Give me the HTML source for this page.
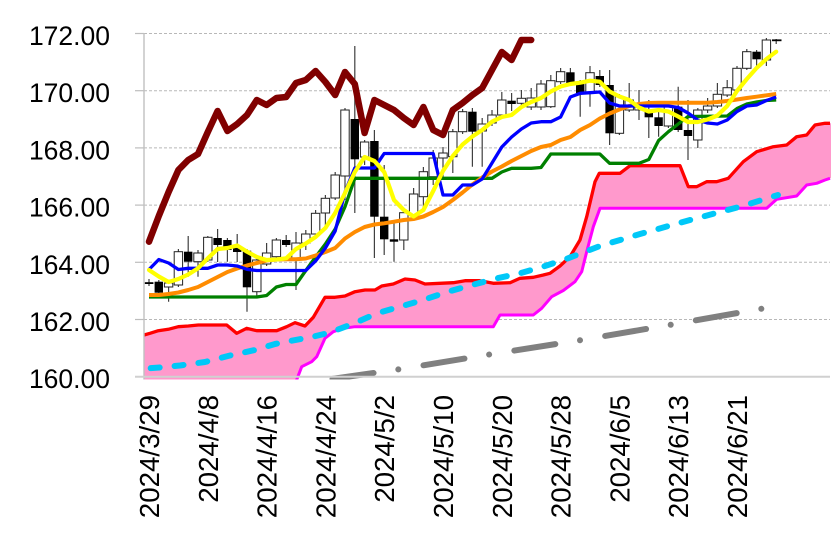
<!DOCTYPE html>
<html>
<head>
<meta charset="utf-8">
<style>
html,body{margin:0;padding:0;background:#fff;}
svg{display:block;}
text{font-family:"Liberation Sans","Noto Sans CJK JP",sans-serif;fill:#000;}
</style>
</head>
<body>
<svg width="836" height="545" viewBox="0 0 836 545" xmlns="http://www.w3.org/2000/svg">
<defs>
<clipPath id="pa"><rect x="144" y="0" width="687" height="379.5"/></clipPath>
</defs>
<rect width="836" height="545" fill="#fff"/>
<g stroke="#b8b8b8" stroke-width="1" stroke-dasharray="3 2" fill="none">
<line x1="144" y1="33.5" x2="830" y2="33.5"/>
<line x1="144" y1="90.7" x2="830" y2="90.7"/>
<line x1="144" y1="147.9" x2="830" y2="147.9"/>
<line x1="144" y1="205.1" x2="830" y2="205.1"/>
<line x1="144" y1="262.3" x2="830" y2="262.3"/>
<line x1="144" y1="319.5" x2="830" y2="319.5"/>
</g>
<g stroke="#bdbdbd" stroke-width="1.2">
<line x1="135" y1="33.5" x2="144" y2="33.5"/>
<line x1="135" y1="90.7" x2="144" y2="90.7"/>
<line x1="135" y1="147.9" x2="144" y2="147.9"/>
<line x1="135" y1="205.1" x2="144" y2="205.1"/>
<line x1="135" y1="262.3" x2="144" y2="262.3"/>
<line x1="135" y1="319.5" x2="144" y2="319.5"/>
</g>
<g clip-path="url(#pa)">
<polygon fill="#ff99cc" points="144,335 150,333.3 158.3,330.7 168.3,329.3 178.3,326.7 188.3,326 198.3,325 226.7,325 236.7,333.3 246.7,328.3 256.7,330.7 276.7,330.7 286.7,326.7 295,322.7 305,326 313.3,317.3 325,297.3 335,297.3 345,296 355,291.7 365,290 375,290 381.7,286 393.3,284 405,279 415,280 425,284 440,283.3 453.3,282.7 465,280.7 480,280.7 493.3,283.3 510,282.7 520,278.3 533.3,277.3 543.3,275 550,273.3 560,266 570,256.7 580,240 586.7,216.7 595,181.7 599.3,173.3 620,173.3 630,165.7 680,165.7 688.3,186.7 696.7,186.7 706.7,181.7 716.7,181.7 728.3,178.3 743.3,161.7 756.7,151.7 773.3,146.7 786.7,145 796.7,136.7 806.7,135 815,125 825,123.3 832,123.3 832,178.3 830,178.3 825,180 816.7,183.3 806.7,185 796.7,196 776.7,199.3 766.7,208.3 600,208.3 593.3,226.7 586.7,251.7 581.7,271.7 575,281.7 563.3,290.5 551.7,296.7 541.7,308.3 533.3,315 500,315 493.3,326.7 355,326.7 343.3,328.3 333.3,331.7 325,338.3 316.7,356.7 311.7,361.7 301.7,366.7 292,392 285,400 144,400"/>
<polyline fill="none" stroke="#ff0000" stroke-width="3.3" stroke-linejoin="round" points="144,335 150,333.3 158.3,330.7 168.3,329.3 178.3,326.7 188.3,326 198.3,325 226.7,325 236.7,333.3 246.7,328.3 256.7,330.7 276.7,330.7 286.7,326.7 295,322.7 305,326 313.3,317.3 325,297.3 335,297.3 345,296 355,291.7 365,290 375,290 381.7,286 393.3,284 405,279 415,280 425,284 440,283.3 453.3,282.7 465,280.7 480,280.7 493.3,283.3 510,282.7 520,278.3 533.3,277.3 543.3,275 550,273.3 560,266 570,256.7 580,240 586.7,216.7 595,181.7 599.3,173.3 620,173.3 630,165.7 680,165.7 688.3,186.7 696.7,186.7 706.7,181.7 716.7,181.7 728.3,178.3 743.3,161.7 756.7,151.7 773.3,146.7 786.7,145 796.7,136.7 806.7,135 815,125 825,123.3 830,123.3"/>
<polyline fill="none" stroke="#ff00ff" stroke-width="3" stroke-linejoin="round" points="292,392 301.7,366.7 311.7,361.7 316.7,356.7 325,338.3 333.3,331.7 343.3,328.3 355,326.7 493.3,326.7 500,315 533.3,315 541.7,308.3 551.7,296.7 563.3,290.5 575,281.7 581.7,271.7 586.7,251.7 593.3,226.7 600,208.3 766.7,208.3 776.7,199.3 796.7,196 806.7,185 816.7,183.3 825,180 830,178.3"/>
<polyline fill="none" stroke="#00c8f8" stroke-width="6" stroke-linecap="round" stroke-linejoin="round" stroke-dasharray="9 15" stroke-dashoffset="-1.7" points="149,368.3 160,367.5 180,365.5 205,362 230,355.5 255,350 275,344 290,341 313,336.7 330,332.5 355,323 377,313.3 400,306.7 423,300 448,291.7 472,285 497,278.3 520,273.3 543,266.7 568,258.3 600,246 640,234 690,220 740,206.7 778,195"/>
<polyline fill="none" stroke="#808080" stroke-width="6" stroke-linecap="round" stroke-linejoin="round" stroke-dasharray="41.5 25 0.01 25.5" points="332.5,378.9 399,369.3 490.7,354.3 581.7,340 673.3,324.3 764,308.3"/>
<path fill="none" stroke="#404040" stroke-width="1.2" d="M149 279V286M158.8 280V294M168.6 280V301.7M178.4 249V287M188.2 236V276.7M198 250V276.7M207.8 236V262M217.6 229V262M227.4 238V261.7M237.2 234V262M247 249V311.7M256.8 258V296.7M266.6 243V266M276.4 238V258M286.2 235V247M296 232V290M305.8 230V250M315.6 210V236M325.4 195V226M335.2 172V200M345 108V200M354.8 46V213M364.6 140V165M374.4 130V258M384.2 165V255M394 222V261.7M403.8 210V250M413.6 188V220M423.4 167V207M433.2 150V185M443 147V180M452.8 129V173M462.6 109V134M472.4 108V166.7M482.2 118V166.7M492 110V126M501.8 92V117M511.6 93V111M521.4 90V106M531.2 88V110M541 80V110M550.8 75V108M560.6 68V84M570.4 68V86M580.2 80V116.7M590 66V106.7M599.8 70V87M609.6 70V145M619.4 94V135M629.2 83V112M639 90V120M648.8 100V138M658.6 112V136.7M668.4 104V128M678.2 86.7V132M688 100V160M697.8 108V148M707.6 98V113M717.4 83V108M727.2 80V97M737 66V92M746.8 49V70M756.6 50V70M766.4 38V66M776.2 39V44"/>
<g fill="#fff" stroke="#222" stroke-width="1">
<rect x="164.4" y="283" width="8.4" height="4"/>
<rect x="174.2" y="251.7" width="8.4" height="33.3"/>
<rect x="193.8" y="253" width="8.4" height="8.7"/>
<rect x="203.6" y="237.3" width="8.4" height="22.7"/>
<rect x="252.6" y="260" width="8.4" height="31.7"/>
<rect x="262.4" y="253" width="8.4" height="11"/>
<rect x="272.2" y="240" width="8.4" height="16.7"/>
<rect x="291.8" y="243" width="8.4" height="16"/>
<rect x="301.6" y="234" width="8.4" height="9"/>
<rect x="311.4" y="213.3" width="8.4" height="20.7"/>
<rect x="321.2" y="198.3" width="8.4" height="14.7"/>
<rect x="331" y="175" width="8.4" height="23"/>
<rect x="340.8" y="110" width="8.4" height="66"/>
<rect x="360.4" y="142" width="8.4" height="15"/>
<rect x="399.6" y="212.7" width="8.4" height="27.3"/>
<rect x="409.4" y="194" width="8.4" height="21"/>
<rect x="419.2" y="171.7" width="8.4" height="25"/>
<rect x="429" y="158" width="8.4" height="18.7"/>
<rect x="438.8" y="153" width="8.4" height="5"/>
<rect x="448.6" y="131.7" width="8.4" height="25"/>
<rect x="458.4" y="111.7" width="8.4" height="20"/>
<rect x="478" y="124" width="8.4" height="7"/>
<rect x="487.8" y="115" width="8.4" height="8"/>
<rect x="497.6" y="100" width="8.4" height="15"/>
<rect x="517.2" y="98.3" width="8.4" height="5"/>
<rect x="527" y="98" width="8.4" height="9"/>
<rect x="536.8" y="84" width="8.4" height="23"/>
<rect x="546.6" y="80.7" width="8.4" height="26"/>
<rect x="556.4" y="71.7" width="8.4" height="10"/>
<rect x="585.8" y="72.7" width="8.4" height="20.3"/>
<rect x="615.2" y="96.7" width="8.4" height="36.6"/>
<rect x="625" y="100" width="8.4" height="10"/>
<rect x="634.8" y="107" width="8.4" height="3"/>
<rect x="664.2" y="106.7" width="8.4" height="19.3"/>
<rect x="693.6" y="110" width="8.4" height="30"/>
<rect x="703.4" y="106" width="8.4" height="4"/>
<rect x="713.2" y="94.3" width="8.4" height="11.7"/>
<rect x="723" y="87.7" width="8.4" height="7.3"/>
<rect x="732.8" y="68.3" width="8.4" height="21.7"/>
<rect x="742.6" y="51.7" width="8.4" height="16.6"/>
<rect x="762.2" y="40" width="8.4" height="20"/>
</g>
<g fill="#000">
<rect x="144.8" y="282.2" width="8.6" height="1.8"/>
<rect x="154.6" y="281.7" width="8.4" height="11"/>
<rect x="184" y="251.7" width="8.4" height="10"/>
<rect x="213.4" y="238" width="8.4" height="7"/>
<rect x="223.2" y="240" width="8.4" height="10"/>
<rect x="233" y="248" width="8.4" height="4"/>
<rect x="242.8" y="250.7" width="8.4" height="36.6"/>
<rect x="282" y="240" width="8.4" height="5"/>
<rect x="350.6" y="119" width="8.4" height="40.3"/>
<rect x="370.2" y="141" width="8.4" height="75.7"/>
<rect x="380" y="216.7" width="8.4" height="22.6"/>
<rect x="389.8" y="239.3" width="8.4" height="2.4"/>
<rect x="468.2" y="111.7" width="8.4" height="20"/>
<rect x="507.4" y="100.7" width="8.4" height="3.3"/>
<rect x="566.2" y="72.3" width="8.4" height="11"/>
<rect x="576" y="83.3" width="8.4" height="10"/>
<rect x="595.6" y="76" width="8.4" height="9"/>
<rect x="605.4" y="85" width="8.4" height="48.3"/>
<rect x="644.6" y="111.7" width="8.4" height="5.6"/>
<rect x="654.4" y="117.3" width="8.4" height="8.7"/>
<rect x="674" y="106.7" width="8.4" height="23.3"/>
<rect x="683.8" y="130" width="8.4" height="6"/>
<rect x="752.4" y="51.7" width="8.4" height="7.6"/>
<rect x="772" y="39.4" width="9.5" height="1.8"/>
</g>
<polyline fill="none" stroke="#008000" stroke-width="3.3" stroke-linejoin="round" points="149,297 256.8,297 266.6,295.5 276.4,287 286.2,284.5 296,284.5 305.8,270.5 315.6,257 325.4,244 335.2,229 345,206.7 354.8,178.3 492,178.3 501.8,172 511.6,168.3 531.2,168.3 541,167.5 550.8,154 599.8,154 609.6,163.3 639,163.3 648.8,159.5 658.6,140.5 668.4,131.7 678.2,124 688,116.5 727.2,116 737,108.5 746.8,104 756.6,102 766.4,100.5 776.2,100"/>
<polyline fill="none" stroke="#ff8c00" stroke-width="4" stroke-linejoin="round" points="149,295 158.8,295 168.6,294 178.4,292.5 188.2,290 198,287 207.8,282 217.6,277 227.4,272 237.2,268.5 247,265.5 256.8,263 266.6,260.5 276.4,259.5 286.2,259.3 296,259.3 305.8,258.5 315.6,255.5 325.4,252 335.2,248 345,238.5 354.8,232 364.6,227 374.4,224.5 384.2,223.3 394,221.7 403.8,220 413.6,219 423.4,216.5 433.2,212 443,207 452.8,200 462.6,192.5 472.4,184.5 482.2,177.5 492,171.5 501.8,166.5 511.6,161 521.4,156 531.2,151 541,147 550.8,145 560.6,140 570.4,137 580.2,130 590,125 599.8,118.5 609.6,113.5 619.4,109.5 629.2,106 639,104 648.8,103 658.6,102.7 707.6,102.7 717.4,102 727.2,101 737,99.5 746.8,98 756.6,96.7 766.4,95.3 776.2,94"/>
<polyline fill="none" stroke="#0000ff" stroke-width="3.3" stroke-linejoin="round" points="149,269.5 158.8,259.5 168.6,263 178.4,269.5 188.2,268.3 198,268.3 207.8,268.3 217.6,265 227.4,265 237.2,266 247,269.3 256.8,270.5 305.8,270.5 315.6,261 325.4,248 335.2,231 345,192 354.8,168 374.4,168 384.2,153.5 433.2,153.5 443,195 452.8,195 462.6,185 472.4,185 482.2,179 492,163 501.8,147 511.6,137 521.4,129 531.2,123 541,121.7 550.8,121.7 560.6,117 570.4,97 580.2,93.3 590,92.7 599.8,92 609.6,103 619.4,106 668.4,106 678.2,107.5 688,113 697.8,120 707.6,123 717.4,124 727.2,120 737,111.5 746.8,106 756.6,105 766.4,100.5 776.2,97"/>
<polyline fill="none" stroke="#ffff00" stroke-width="4.2" stroke-linejoin="round" stroke-linecap="round" points="149,270 158.8,276.5 168.6,282 178.4,279 188.2,274.5 198,268.3 207.8,258.3 217.6,249 227.4,248 237.2,245.5 247,251.7 256.8,257 266.6,260 276.4,259.5 286.2,258.3 296,249 305.8,243.5 315.6,237 325.4,228 335.2,213 345,193 354.8,172 364.6,157 374.4,161 384.2,172 394,200 403.8,210 413.6,216.5 423.4,210 433.2,191 443,171 452.8,156 462.6,144.5 472.4,136.5 482.2,130 492,121.7 501.8,117 511.6,115 521.4,107 531.2,102 541,98 550.8,91.5 560.6,86.5 570.4,84 580.2,82.7 590,80.7 599.8,81.7 609.6,91.5 619.4,96.5 629.2,100 639,107.5 648.8,111.5 658.6,110 668.4,111.5 678.2,116.5 688,122 697.8,122 707.6,119.5 717.4,115.5 727.2,106 737,91 746.8,79 756.6,68 766.4,59 776.2,51.7"/>
<polyline fill="none" stroke="#800000" stroke-width="6.5" stroke-linejoin="round" stroke-linecap="round" points="149,241.7 158.8,216 168.6,192 178.4,170 188.2,160 198,154 207.8,132 217.6,111 227.4,131 237.2,124 247,115 256.8,100 266.6,105 276.4,98 286.2,97 296,83 305.8,80 315.6,71 325.4,82 335.2,95 345,72 354.8,84 364.6,133 374.4,100 384.2,105 394,110 403.8,118 413.6,125 423.4,107 433.2,130 443,135 452.8,110 462.6,103 472.4,95 482.2,88 492,70 501.8,52 511.6,60 521.4,40 531.2,40"/>
</g>
<line x1="144" y1="33" x2="144" y2="379.5" stroke="#c0c0c0" stroke-width="1.4"/>
<line x1="135" y1="376.8" x2="830" y2="376.8" stroke="#d0d0d0" stroke-width="2"/>
<g font-size="26.5" text-anchor="end">
<text x="110" y="45">172.00</text>
<text x="110" y="102.2">170.00</text>
<text x="110" y="159.4">168.00</text>
<text x="110" y="216.6">166.00</text>
<text x="110" y="273.8">164.00</text>
<text x="110" y="331">162.00</text>
<text x="110" y="388.2">160.00</text>
</g>
<g font-size="27.7" text-anchor="end">
<text transform="translate(159,395) rotate(-90)">2024/3/29</text>
<text transform="translate(217.8,395) rotate(-90)">2024/4/8</text>
<text transform="translate(276.6,395) rotate(-90)">2024/4/16</text>
<text transform="translate(335.4,395) rotate(-90)">2024/4/24</text>
<text transform="translate(394.2,395) rotate(-90)">2024/5/2</text>
<text transform="translate(453,395) rotate(-90)">2024/5/10</text>
<text transform="translate(511.8,395) rotate(-90)">2024/5/20</text>
<text transform="translate(570.6,395) rotate(-90)">2024/5/28</text>
<text transform="translate(629.4,395) rotate(-90)">2024/6/5</text>
<text transform="translate(688.2,395) rotate(-90)">2024/6/13</text>
<text transform="translate(747,395) rotate(-90)">2024/6/21</text>
</g>
</svg>
</body>
</html>
